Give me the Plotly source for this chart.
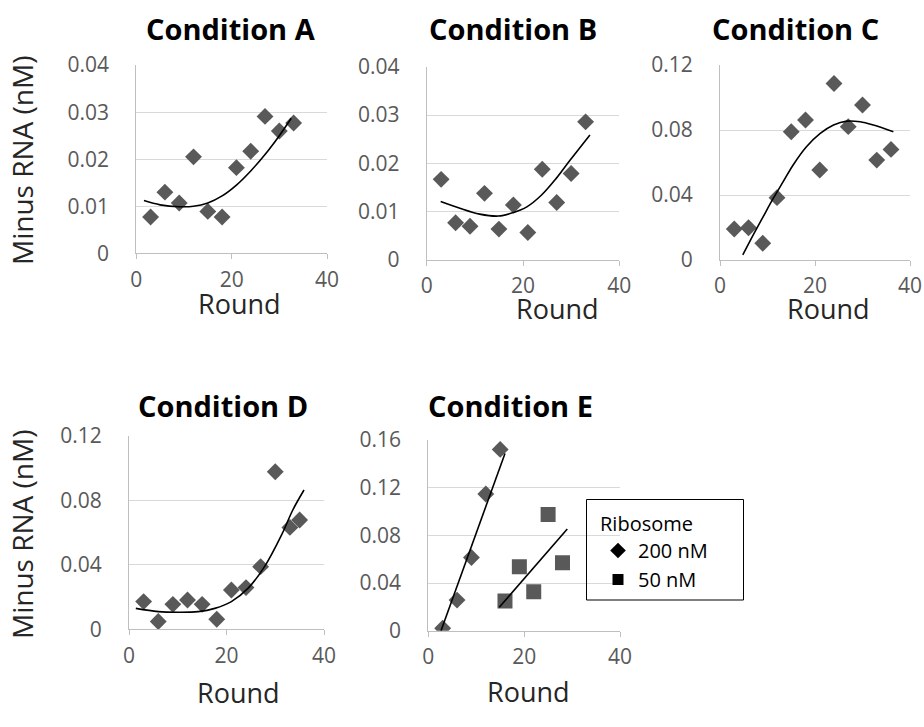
import plotly.graph_objects as go

W, H = 924, 727

# Minus-strand RNA measured at each round, per condition
round_a = [3, 6, 9, 12, 15, 18, 21, 24, 27, 30, 33]
rna_a = [0.0077, 0.0130, 0.0107, 0.0205, 0.0089, 0.0077, 0.0182, 0.0217, 0.0291, 0.0260, 0.0277]

round_b = [3, 6, 9, 12, 15, 18, 21, 24, 27, 30, 33]
rna_b = [0.0167, 0.0077, 0.0070, 0.0138, 0.0064, 0.0114, 0.0057, 0.0188, 0.0119, 0.0179, 0.0286]

round_c = [3, 6, 9, 12, 15, 18, 21, 24, 27, 30, 33, 36]
rna_c = [0.0191, 0.0199, 0.0103, 0.0384, 0.0790, 0.0862, 0.0554, 0.1087, 0.0821, 0.0954, 0.0615, 0.0681]

round_d = [3, 6, 9, 12, 15, 18, 21, 24, 27, 30, 33, 35]
rna_d = [0.0172, 0.0048, 0.0155, 0.0182, 0.0155, 0.0062, 0.0244, 0.0259, 0.0389, 0.0979, 0.0633, 0.0679]

# Condition E: two ribosome concentrations
round_e200 = [3, 6, 9, 12, 15]
rna_e200 = [0.0020, 0.0257, 0.0615, 0.1147, 0.1522]
round_e50 = [16, 19, 22, 25, 28]
rna_e50 = [0.0249, 0.0537, 0.0327, 0.0976, 0.0571]

# Trend lines (polynomial / linear trendlines), sampled along the curve
trend_a_x = [1.6, 5, 9, 12, 15, 18, 21, 24, 27, 30, 32.5]
trend_a_y = [0.0112, 0.0103, 0.0099, 0.0100, 0.0107, 0.0122, 0.0145, 0.0175, 0.0210, 0.0250, 0.0287]

trend_b_x = [2.9, 6.9, 11.0, 14.9, 17.9, 20.8, 23.8, 26.9, 29.8, 33.9]
trend_b_y = [0.0121, 0.0107, 0.0095, 0.0091, 0.0098, 0.0110, 0.0134, 0.0169, 0.0207, 0.0259]

trend_c_x = [4.8, 7.0, 9.1, 11.2, 13.3, 15.4, 18.2, 21.1, 23.9, 26.7, 29.5, 32.3, 36.5]
trend_c_y = [0.0031, 0.0154, 0.0267, 0.0379, 0.0482, 0.0585, 0.0697, 0.0779, 0.0831, 0.0855, 0.0851, 0.0831, 0.0790]

trend_d_x = [1.4, 6.0, 10.1, 14.2, 17.6, 21.0, 24.4, 27.8, 31.3, 33.6, 35.9]
trend_d_y = [0.0130, 0.0110, 0.0106, 0.0110, 0.0130, 0.0172, 0.0254, 0.0389, 0.0586, 0.0741, 0.0865]

trend_e200_x = [2.65, 16.0]
trend_e200_y = [0.0, 0.1488]
trend_e50_x = [14.8, 29.0]
trend_e50_y = [0.0196, 0.0853]

titles = ["Condition A", "Condition B", "Condition C", "Condition D", "Condition E"]
y_max = [0.04, 0.04, 0.12, 0.12, 0.16]
y_step = [0.01, 0.01, 0.04, 0.04, 0.04]
x_ticks = [0, 20, 40]

MARK = "#595959"
GRID = "#d9d9d9"
AXIS = "#bfbfbf"
TICK_TXT = "#595959"
LABEL_TXT = "#262626"
FONT = "Open Sans"


def px_x(p):
    return p / W


def px_y(p):
    return 1 - p / H


# plot-area boxes in pixels: (left, right, top, bottom)
boxes = [
    (136.3, 327.0, 65.0, 253.3),
    (426.7, 619.3, 66.7, 260.0),
    (720.0, 910.0, 65.0, 260.0),
    (129.0, 324.0, 436.0, 629.3),
    (428.3, 620.0, 440.0, 630.7),
]
ids = ["", "2", "3", "4", "5"]

fig = go.Figure()


def trend(xs, ys, axis_id, smooth=True):
    fig.add_trace(go.Scatter(
        x=xs, y=ys, mode="lines",
        line=dict(color="black", width=1.6,
                  shape="spline" if smooth else "linear", smoothing=1.0),
        showlegend=False, hoverinfo="skip",
        xaxis="x" + axis_id, yaxis="y" + axis_id))


def points(xs, ys, symbol, size, axis_id):
    fig.add_trace(go.Scatter(
        x=xs, y=ys, mode="markers",
        marker=dict(symbol=symbol, size=size, color=MARK, line=dict(width=0)),
        showlegend=False,
        xaxis="x" + axis_id, yaxis="y" + axis_id))


points(round_a, rna_a, "diamond", 13, ids[0])
trend(trend_a_x, trend_a_y, ids[0])

points(round_b, rna_b, "diamond", 13, ids[1])
trend(trend_b_x, trend_b_y, ids[1])

points(round_c, rna_c, "diamond", 13, ids[2])
trend(trend_c_x, trend_c_y, ids[2])

points(round_d, rna_d, "diamond", 13, ids[3])
trend(trend_d_x, trend_d_y, ids[3])

points(round_e200, rna_e200, "diamond", 13, ids[4])
points(round_e50, rna_e50, "square", 15, ids[4])
trend(trend_e200_x, trend_e200_y, ids[4], smooth=False)
trend(trend_e50_x, trend_e50_y, ids[4], smooth=False)

# legend entries (black symbols)
fig.add_trace(go.Scatter(x=[None], y=[None], mode="markers", name="200 nM",
                         marker=dict(symbol="diamond", size=12, color="black"),
                         xaxis="x5", yaxis="y5"))
fig.add_trace(go.Scatter(x=[None], y=[None], mode="markers", name="50 nM",
                         marker=dict(symbol="square", size=11, color="black"),
                         xaxis="x5", yaxis="y5"))

layout = dict(
    width=W, height=H,
    margin=dict(l=0, r=0, t=0, b=0, pad=0, autoexpand=False),
    paper_bgcolor="white", plot_bgcolor="white",
    font=dict(family=FONT, color=TICK_TXT, size=20),
    showlegend=True,
    legend=dict(
        x=px_x(598), y=px_y(505), xanchor="left", yanchor="top",
        bgcolor="rgba(0,0,0,0)", borderwidth=0,
        title=dict(text="Ribosome", font=dict(size=20, color="black")),
        font=dict(size=20, color="black"),
        itemwidth=30, tracegroupgap=0,
    ),
    annotations=[],
    shapes=[dict(type="rect", xref="paper", yref="paper",
                 x0=px_x(586.5), x1=px_x(743.5), y0=px_y(600), y1=px_y(499.5),
                 line=dict(color="black", width=1), fillcolor="rgba(0,0,0,0)")],
)

for i, (l, r, t, b) in enumerate(boxes):
    xk = "xaxis" + ids[i]
    yk = "yaxis" + ids[i]
    layout[xk] = dict(
        domain=[px_x(l), px_x(r)], anchor="y" + ids[i], range=[0, 40],
        tickvals=x_ticks, ticks="outside", ticklen=5, tickcolor=AXIS,
        showline=True, linecolor=AXIS, linewidth=1, showgrid=False,
        zeroline=False, tickfont=dict(size=21, color=TICK_TXT),
        ticklabelstandoff=2, automargin=False,
    )
    n = int(round(y_max[i] / y_step[i]))
    yt = [round(k * y_step[i], 3) for k in range(n + 1)]
    layout[yk] = dict(
        domain=[px_y(b), px_y(t)], anchor="x" + ids[i], range=[0, y_max[i] * 1.0005],
        tickvals=yt, ticktext=["0"] + [f"{v:g}" for v in yt[1:]],
        ticks="", showline=True, linecolor=AXIS, linewidth=1,
        showgrid=True, gridcolor=GRID, gridwidth=1, zeroline=False,
        tickfont=dict(size=21, color=TICK_TXT), ticklabelstandoff=22,
        automargin=False,
    )

title_pos = [(231, 29), (513, 29), (795, 29), (223, 405), (511, 406)]
round_pos = [(240, 304), (557, 308), (828, 308), (239, 692), (528, 691)]
ylab_pos = [(22, 161), (22, 535)]

for t, (x, y) in zip(titles, title_pos):
    layout["annotations"].append(dict(
        text=f"<b>{t}</b>", x=px_x(x), y=px_y(y), xref="paper", yref="paper",
        showarrow=False, xanchor="center", yanchor="middle",
        font=dict(size=29, color="black", family=FONT)))

for (x, y) in round_pos:
    layout["annotations"].append(dict(
        text="Round", x=px_x(x), y=px_y(y), xref="paper", yref="paper",
        showarrow=False, xanchor="center", yanchor="middle",
        font=dict(size=27, color=LABEL_TXT, family=FONT)))

for (x, y) in ylab_pos:
    layout["annotations"].append(dict(
        text="Minus RNA (nM)", x=px_x(x), y=px_y(y), xref="paper", yref="paper",
        showarrow=False, xanchor="center", yanchor="middle", textangle=-90,
        font=dict(size=28, color=LABEL_TXT, family=FONT)))

fig.update_layout(**layout)
fig.write_html("out.html")
